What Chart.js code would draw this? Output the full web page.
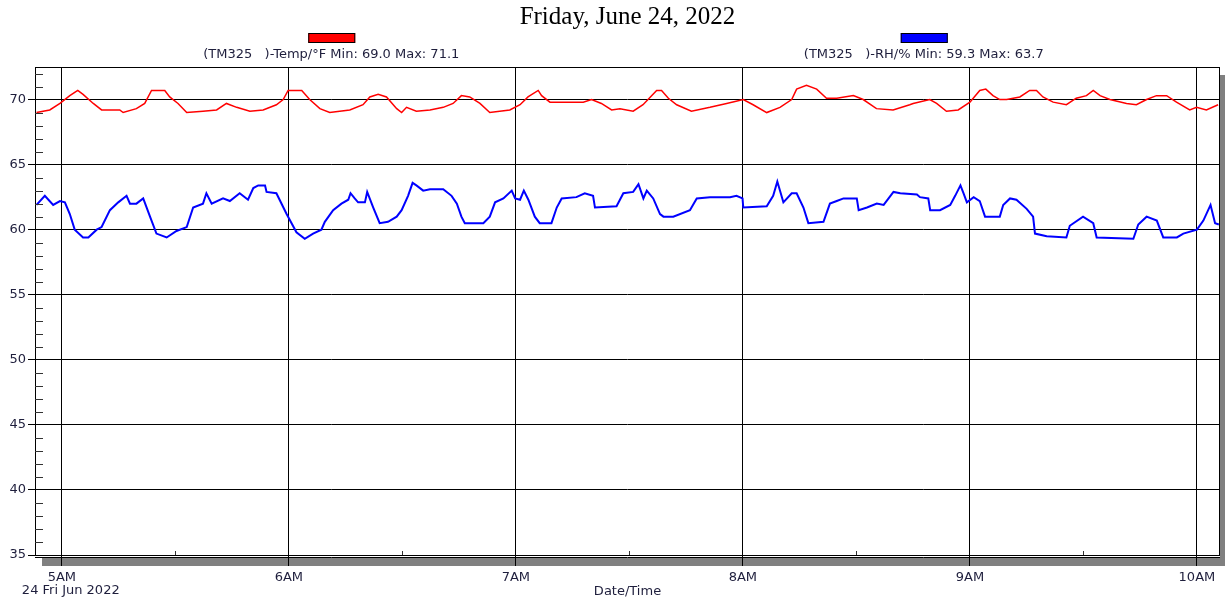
<!DOCTYPE html>
<html>
<head>
<meta charset="utf-8">
<script src="https://cdn.jsdelivr.net/npm/chart.js@4/dist/chart.umd.min.js"></script>
<style>
  html, body { margin: 0; padding: 0; background: #fff; }
  #wrap { width: 1225px; height: 603px; }
</style>
</head>
<body>
<div id="wrap"><canvas id="logger"></canvas></div>
<script>
// times are minutes since midnight
const tempTimes = [293.3, 296.8, 299.5, 302.1, 304.2, 305.6, 308.3, 310.5, 315.3, 316.2, 319.7, 321.9, 323.7, 327.2, 328.5, 330.7, 333.0, 337.3, 340.9, 343.5, 346.2, 349.7, 353.2, 356.7, 358.5, 359.8, 363.4, 365.5, 368.2, 370.8, 376.1, 379.6, 381.4, 383.6, 385.8, 388.5, 389.8, 391.1, 393.7, 397.3, 400.8, 403.4, 405.6, 407.8, 410.5, 413.1, 418.4, 421.1, 423.2, 425.9, 426.8, 429.0, 433.4, 437.8, 440.0, 442.6, 445.3, 447.5, 451.0, 453.6, 457.2, 458.5, 460.3, 462.5, 466.4, 471.3, 475.7, 480.1, 482.7, 486.3, 489.8, 492.9, 494.2, 496.8, 499.5, 502.1, 504.8, 509.2, 511.8, 515.3, 519.7, 524.1, 525.0, 529.4, 531.2, 533.8, 536.9, 540.0, 542.6, 544.2, 546.1, 547.9, 549.7, 553.2, 555.8, 557.6, 559.3, 562.0, 565.5, 568.1, 570.8, 572.6, 574.4, 577.0, 581.4, 584.0, 586.7, 589.3, 592.0, 594.6, 598.1, 599.9, 602.5, 605.6];
const tempValues = [69.0, 69.2, 69.7, 70.3, 70.7, 70.4, 69.7, 69.2, 69.2, 69.0, 69.3, 69.7, 70.7, 70.7, 70.2, 69.7, 69.0, 69.1, 69.2, 69.7, 69.4, 69.1, 69.2, 69.6, 70.0, 70.7, 70.7, 70.0, 69.3, 69.0, 69.2, 69.6, 70.2, 70.4, 70.2, 69.3, 69.0, 69.4, 69.1, 69.2, 69.4, 69.7, 70.3, 70.2, 69.7, 69.0, 69.2, 69.6, 70.2, 70.7, 70.3, 69.8, 69.8, 69.8, 70.0, 69.7, 69.2, 69.3, 69.1, 69.6, 70.7, 70.7, 70.1, 69.6, 69.1, 69.4, 69.7, 70.0, 69.6, 69.0, 69.4, 70.0, 70.8, 71.1, 70.8, 70.1, 70.1, 70.3, 70.0, 69.3, 69.2, 69.6, 69.7, 70.0, 69.7, 69.1, 69.2, 69.8, 70.7, 70.8, 70.3, 70.0, 70.0, 70.2, 70.7, 70.7, 70.2, 69.8, 69.6, 70.1, 70.3, 70.7, 70.3, 70.0, 69.7, 69.6, 70.0, 70.3, 70.3, 69.8, 69.2, 69.4, 69.2, 69.6];

const rhTimes = [293.3, 295.5, 297.7, 299.5, 300.8, 302.1, 303.4, 305.6, 307.0, 309.2, 310.5, 312.7, 314.9, 317.1, 318.0, 319.7, 321.5, 323.3, 325.0, 327.7, 330.3, 333.0, 334.7, 337.3, 338.2, 339.6, 342.6, 344.4, 347.0, 349.2, 350.6, 351.9, 353.7, 354.1, 356.7, 359.4, 362.0, 364.2, 366.4, 368.6, 369.5, 371.7, 373.9, 375.7, 376.3, 377.4, 378.3, 380.1, 380.7, 382.3, 384.0, 386.2, 388.5, 389.8, 391.5, 392.7, 393.7, 395.5, 397.3, 400.8, 403.0, 404.4, 405.6, 406.5, 411.4, 413.1, 414.5, 416.7, 418.9, 419.8, 421.1, 422.1, 423.3, 425.0, 426.3, 429.4, 430.8, 432.1, 436.0, 438.2, 440.4, 440.9, 446.6, 447.5, 448.4, 451.0, 452.4, 453.7, 454.6, 456.3, 458.1, 459.0, 461.6, 466.0, 467.8, 471.3, 476.6, 478.3, 479.9, 480.1, 486.3, 488.0, 489.1, 490.7, 492.9, 494.2, 496.0, 497.3, 501.3, 503.0, 504.8, 506.6, 510.1, 510.6, 512.8, 515.4, 517.2, 519.8, 521.6, 526.0, 526.8, 529.0, 529.5, 532.1, 534.8, 536.1, 537.5, 538.3, 539.2, 541.0, 542.6, 544.0, 547.9, 548.8, 550.6, 552.3, 555.0, 556.7, 557.2, 560.3, 565.5, 566.4, 569.9, 572.6, 573.5, 583.2, 584.5, 586.7, 589.4, 591.1, 594.7, 596.4, 600.0, 601.7, 603.6, 604.8, 605.8];
const rhValues = [61.9, 62.6, 61.9, 62.2, 62.1, 61.2, 60.0, 59.4, 59.4, 60.0, 60.2, 61.5, 62.1, 62.6, 62.0, 62.0, 62.4, 61.0, 59.7, 59.4, 59.9, 60.2, 61.7, 62.0, 62.8, 62.0, 62.4, 62.2, 62.8, 62.3, 63.2, 63.4, 63.4, 62.9, 62.8, 61.2, 59.8, 59.3, 59.7, 60.0, 60.6, 61.5, 62.0, 62.3, 62.8, 62.4, 62.1, 62.1, 62.9, 61.7, 60.5, 60.6, 61.0, 61.5, 62.6, 63.6, 63.4, 63.0, 63.1, 63.1, 62.6, 62.0, 61.0, 60.5, 60.5, 61.0, 62.1, 62.4, 63.0, 62.4, 62.3, 63.0, 62.3, 61.0, 60.5, 60.5, 61.7, 62.4, 62.5, 62.8, 62.6, 61.7, 61.8, 62.3, 62.8, 62.9, 63.5, 62.4, 63.0, 62.4, 61.2, 61.0, 61.0, 61.5, 62.4, 62.5, 62.5, 62.6, 62.4, 61.7, 61.8, 62.6, 63.7, 62.1, 62.8, 62.8, 61.7, 60.5, 60.6, 62.0, 62.2, 62.4, 62.4, 61.5, 61.7, 62.0, 61.9, 62.9, 62.8, 62.7, 62.5, 62.4, 61.5, 61.5, 61.9, 62.6, 63.4, 62.8, 62.1, 62.5, 62.2, 61.0, 61.0, 61.9, 62.4, 62.3, 61.6, 61.0, 59.7, 59.5, 59.4, 60.3, 61.0, 60.5, 59.4, 59.3, 60.4, 61.0, 60.7, 59.4, 59.4, 59.7, 60.0, 60.7, 61.9, 60.5, 60.4];

const hourTicks = [300, 360, 420, 480, 540, 600];
const hourLabels = ['5AM', '6AM', '7AM', '8AM', '9AM', '10AM'];
const yTicks = [35, 40, 45, 50, 55, 60, 65, 70];

const textColor = '#1e1e3c';
const sansFont = '"DejaVu Sans", Arial, sans-serif';

const chartDecor = {
    id: 'chartDecor',
    beforeDraw(chart) {
        const { ctx, chartArea: a } = chart;
        // grey drop shadow under and right of the plot
        ctx.save();
        ctx.fillStyle = '#808080';
        ctx.fillRect(a.left + 7, a.bottom + 3, chart.width - a.left - 7, 8);
        ctx.fillRect(a.right, a.top + 8, chart.width - a.right, a.bottom + 11 - a.top - 8);
        ctx.restore();
    },
    afterDraw(chart) {
        const { ctx, chartArea: a } = chart;
        const xs = chart.scales.x, ys = chart.scales.y;
        ctx.save();

        // frame
        ctx.strokeStyle = '#000';
        ctx.lineWidth = 1;
        ctx.strokeRect(a.left + 0.5, a.top + 0.5, a.right - a.left - 1, a.bottom - a.top);
        ctx.beginPath();
        ctx.moveTo(a.left, a.bottom + 2.5);
        ctx.lineTo(a.right, a.bottom + 2.5);
        ctx.stroke();

        // minor ticks
        ctx.strokeStyle = '#333';
        ctx.beginPath();
        for (let v = 36; v < 72.5; v++) {
            if (v % 5 === 0) continue;
            const y = Math.round(ys.getPixelForValue(v)) + 0.5;
            ctx.moveTo(a.left, y);
            ctx.lineTo(a.left + 8, y);
        }
        for (let m = 330; m < 606; m += 60) {
            const x = Math.round(xs.getPixelForValue(m)) + 0.5;
            ctx.moveTo(x, a.bottom);
            ctx.lineTo(x, a.bottom - 4);
        }
        ctx.stroke();

        // title
        ctx.fillStyle = '#000';
        ctx.font = '25px "Liberation Serif", "Times New Roman", serif';
        ctx.textAlign = 'center';
        ctx.textBaseline = 'middle';
        ctx.fillText('Friday, June 24, 2022', (a.left + a.right) / 2, 17);

        // legend: box above text, one item per quarter of the plot
        ctx.font = '13px ' + sansFont;
        chart.data.datasets.forEach((ds, i) => {
            const cx = a.left + (a.right - a.left) * (2 * i + 1) / 4;
            const vals = ds.data.map(p => p.y);
            ctx.fillStyle = ds.borderColor;
            ctx.fillRect(cx - 23, 33, 47, 10);
            ctx.strokeStyle = '#000';
            ctx.strokeRect(cx - 22.5, 33.5, 46, 9);
            ctx.fillStyle = textColor;
            ctx.fillText(ds.label + ' Min: ' + Math.min(...vals).toFixed(1) + ' Max: ' + Math.max(...vals).toFixed(1), cx, 55);
        });

        // date under the first hour label
        ctx.textAlign = 'left';
        ctx.fillText('24 Fri Jun 2022', xs.getPixelForValue(hourTicks[0]) - 40, 591);
        ctx.restore();
    }
};

new Chart(document.getElementById('logger'), {
    type: 'line',
    data: {
        datasets: [
            {
                label: '(TM325   )-Temp/°F',
                data: tempTimes.map((t, i) => ({ x: t, y: tempValues[i] })),
                borderColor: '#ff0000',
                borderWidth: 1.5,
                pointRadius: 0,
                tension: 0
            },
            {
                label: '(TM325   )-RH/%',
                data: rhTimes.map((t, i) => ({ x: t, y: rhValues[i] })),
                borderColor: '#0000ff',
                borderWidth: 2,
                pointRadius: 0,
                tension: 0
            }
        ]
    },
    options: {
        responsive: true,
        maintainAspectRatio: false,
        animation: false,
        layout: { padding: { top: 67, right: 5, left: 0, bottom: 0 } },
        plugins: {
            legend: { display: false },
            title: { display: false },
            tooltip: { enabled: false }
        },
        scales: {
            x: {
                type: 'linear',
                min: 292.9,
                max: 606.1,
                afterBuildTicks(s) { s.ticks = hourTicks.map(v => ({ value: v })); },
                afterFit(s) { s.height = 48; s.paddingLeft = 0; s.paddingRight = 0; },
                grid: { color: '#000', lineWidth: 1, tickLength: 11 },
                border: { display: false },
                ticks: {
                    padding: 4,
                    maxRotation: 0,
                    autoSkip: false,
                    color: textColor,
                    font: { family: sansFont, size: 13 },
                    callback: (v) => hourLabels[hourTicks.indexOf(v)]
                },
                title: {
                    display: true,
                    text: 'Date/Time',
                    color: textColor,
                    font: { family: sansFont, size: 13 },
                    padding: { top: 0, bottom: 4 }
                }
            },
            y: {
                min: 35,
                max: 72.5,
                afterBuildTicks(s) { s.ticks = yTicks.map(v => ({ value: v })); },
                afterFit(s) { s.width = 35; s.paddingTop = 0; s.paddingBottom = 0; },
                grid: { color: '#000', lineWidth: 1, tickLength: 7 },
                border: { display: false },
                ticks: {
                    padding: 2,
                    color: textColor,
                    font: { family: sansFont, size: 13 }
                }
            }
        }
    },
    plugins: [chartDecor]
});
</script>
</body>
</html>
